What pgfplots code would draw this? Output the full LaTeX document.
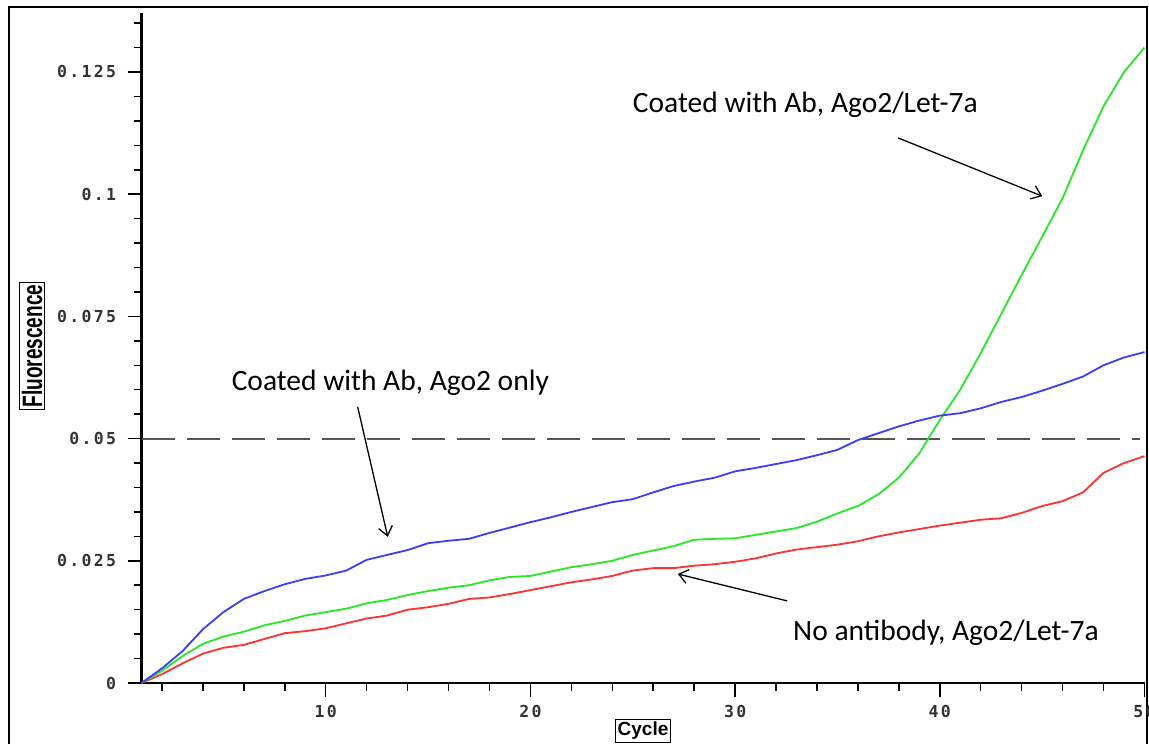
\documentclass[border=0pt]{standalone}
\usepackage{fontspec}
\setmainfont{Carlito}
\newfontfamily\tickfont[LetterSpace=14]{DejaVu Sans Mono}
\newfontfamily\labfont[FakeStretch=0.68]{Liberation Sans}
\newfontfamily\cycfont{Liberation Sans}
\usepackage{pgfplots}
\pgfplotsset{compat=1.18}
\usetikzlibrary{arrows.meta}
\definecolor{cblue}{RGB}{60,60,255}
\definecolor{cgreen}{RGB}{40,230,40}
\definecolor{cred}{RGB}{255,50,50}
\definecolor{cdash}{RGB}{85,85,85}

\pgfplotstableread{
c v
1 0
2 0.0030
3 0.0065
4 0.0110
5 0.0145
6 0.0172
7 0.0188
8 0.0202
9 0.0213
10 0.0220
11 0.0230
12 0.0252
13 0.0262
14 0.0272
15 0.0286
16 0.0291
17 0.0295
18 0.0307
19 0.0318
20 0.0329
21 0.0339
22 0.0350
23 0.0360
24 0.0370
25 0.0376
26 0.0390
27 0.0403
28 0.0412
29 0.0420
30 0.0433
31 0.0440
32 0.0448
33 0.0456
34 0.0466
35 0.0477
36 0.0497
37 0.0511
38 0.0525
39 0.0537
40 0.0547
41 0.0552
42 0.0562
43 0.0575
44 0.0585
45 0.0598
46 0.0612
47 0.0627
48 0.0650
49 0.0666
50 0.0677
}\blue

\pgfplotstableread{
c v
1 0
2 0.0025
3 0.0055
4 0.0080
5 0.0095
6 0.0105
7 0.0118
8 0.0127
9 0.0138
10 0.0145
11 0.0152
12 0.0163
13 0.0170
14 0.0180
15 0.0188
16 0.0195
17 0.0200
18 0.0210
19 0.0217
20 0.0219
21 0.0228
22 0.0237
23 0.0243
24 0.0250
25 0.0262
26 0.0271
27 0.0280
28 0.0293
29 0.0295
30 0.0296
31 0.0303
32 0.0310
33 0.0317
34 0.0330
35 0.0347
36 0.0362
37 0.0386
38 0.0420
39 0.0470
40 0.0538
41 0.0600
42 0.0675
43 0.0755
44 0.0835
45 0.0913
46 0.0992
47 0.1090
48 0.1180
49 0.1250
50 0.1300
}\green

\pgfplotstableread{
c v
1 0
2 0.0018
3 0.0040
4 0.0060
5 0.0072
6 0.0078
7 0.0090
8 0.0102
9 0.0106
10 0.0112
11 0.0122
12 0.0132
13 0.0138
14 0.0150
15 0.0155
16 0.0162
17 0.0172
18 0.0175
19 0.0182
20 0.0190
21 0.0198
22 0.0206
23 0.0212
24 0.0219
25 0.0230
26 0.0235
27 0.0235
28 0.0240
29 0.0243
30 0.0248
31 0.0255
32 0.0265
33 0.0273
34 0.0278
35 0.0283
36 0.0290
37 0.0300
38 0.0308
39 0.0315
40 0.0322
41 0.0328
42 0.0334
43 0.0337
44 0.0348
45 0.0362
46 0.0372
47 0.0390
48 0.0430
49 0.0450
50 0.0464
}\red

\begin{document}
\begin{tikzpicture}
\useasboundingbox (0bp,0bp) rectangle (1149bp,744bp);
\fill[white] (0bp,0bp) rectangle (1149bp,744bp);
\draw[line width=1.5bp] (9bp,-10bp) -- (9bp,737bp) -- (1147bp,737bp) -- (1147bp,-10bp);
\node[draw, line width=1bp, rotate=90, inner sep=2.5bp, font=\labfont\bfseries\fontsize{28bp}{28bp}\selectfont] at (32bp,398bp) {Fluorescence};
\node[draw, line width=1bp, inner sep=2.5bp, font=\cycfont\bfseries\fontsize{19bp}{19bp}\selectfont] at (643bp,13bp) {Cycle};
\begin{axis}[
  at={(141.5bp,61bp)}, anchor=south west,
  scale only axis, width=1003bp, height=670bp,
  xmin=1, xmax=50, ymin=0, ymax=0.13707,
  axis x line*=bottom, axis y line*=left,
  x axis line style={line width=2bp},
  y axis line style={line width=3bp},
  tick align=outside,
  major tick length=14bp, minor tick length=8bp,
  tick style={black, line width=1.5bp},
  xtick={10,20,30,40,50}, xticklabels={10,20,30,40,50},
  minor xtick={2,4,6,8,12,14,16,18,22,24,26,28,32,34,36,38,42,44,46,48},
  ytick={0,0.025,0.05,0.075,0.1,0.125},
  yticklabels={0,0.025,0.05,0.075,0.1,0.125},
  minor ytick={0.005,0.01,0.015,0.02,0.03,0.035,0.04,0.045,0.055,0.06,0.065,0.07,0.08,0.085,0.09,0.095,0.105,0.11,0.115,0.12,0.13,0.135},
  ticklabel style={font=\tickfont\bfseries\fontsize{16.5bp}{16.5bp}\selectfont, text=black!80},
  yticklabel style={xshift=-8bp},
  xticklabel style={yshift=-5bp},
  clip=false,
]
\addplot[cdash, line width=2bp, dash pattern=on 33bp off 12bp] coordinates {(1,0.05) (49.8,0.05)};
\addplot[cred, line width=1.8bp, no marks] table[x=c,y=v] {\red};
\addplot[cgreen, line width=1.8bp, no marks] table[x=c,y=v] {\green};
\addplot[cblue, line width=1.8bp, no marks] table[x=c,y=v] {\blue};
\node[anchor=base west, font=\fontsize{29.5bp}{30bp}\selectfont, inner sep=0pt] at (axis cs:25.0,0.1168) {Coated with Ab, Ago2/Let-7a};
\node[anchor=base west, font=\fontsize{29.5bp}{30bp}\selectfont, inner sep=0pt] at (axis cs:5.40,0.0599) {Coated with Ab, Ago2 only};
\node[anchor=base west, font=\fontsize{29.5bp}{30bp}\selectfont, inner sep=0pt] at (axis cs:32.83,0.0086) {No antibody, Ago2/Let-7a};
\draw[line width=1.3bp, -{Straight Barb[length=9bp,width=14bp]}] (axis cs:37.97,0.1115) -- (axis cs:45.0,0.0996);
\draw[line width=1.3bp, -{Straight Barb[length=9bp,width=14bp]}] (axis cs:11.56,0.0565) -- (axis cs:13.03,0.0299);
\draw[line width=1.3bp, -{Straight Barb[length=9bp,width=14bp]}] (axis cs:32.54,0.0168) -- (axis cs:27.2,0.0223);
\end{axis}
\end{tikzpicture}
\end{document}
